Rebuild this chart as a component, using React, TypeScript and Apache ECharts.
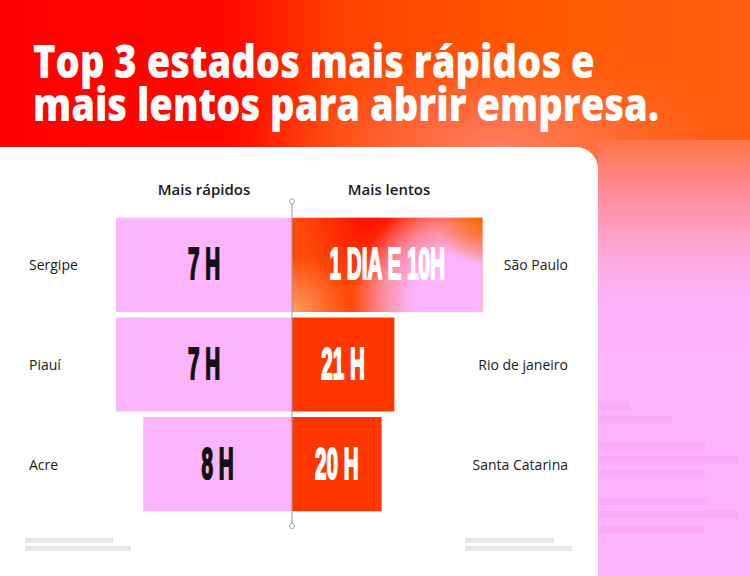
import React, { useEffect, useRef } from "react";
import * as echarts from "echarts";

// ---- data ----
const titleLines = ["Top 3 estados mais rápidos e", "mais lentos para abrir empresa."];
const headerLabels = ["Mais rápidos", "Mais lentos"];
const categoriesFast = ["Sergipe", "Piauí", "Acre"];
const categoriesSlow = ["São Paulo", "Rio de janeiro", "Santa Catarina"];
const fastHours = [7, 7, 8];
const slowLabels = ["1 DIA E 10H", "21 H", "20 H"];
// drawn bar lengths (visual units, as measured on the picture)
const fastBarLength = [11, 11, 9.3];
const slowBarLength = [11.9, 6.4, 5.6];

// ---- styles ----
const PINK = "#fcb5fc";
const RED = "#ff3600";
const NARROW = '"Liberation Sans Narrow", "Liberation Sans", sans-serif';
const SANS = '"Open Sans", "Noto Sans", sans-serif';

function radial(cx: number, cy: number, r: number, stops: [number, string][], global = true) {
  return new echarts.graphic.RadialGradient(
    cx, cy, r, stops.map(([offset, color]) => ({ offset, color })), global
  );
}

function barRenderer(labels: string[], side: "fast" | "slow") {
  return (params: any, api: any) => {
    const v = api.value(0);
    const i = api.value(1);
    const p0 = api.coord([0, i]);
    const p1 = api.coord([v, i]);
    const band = api.size([0, 1])[1];
    const h = band * 0.945;
    const x = Math.min(p0[0], p1[0]);
    const w = Math.abs(p1[0] - p0[0]);
    const y = p0[1] - h / 2;
    const children: any[] = [];
    const shape = { x, y, width: w, height: h };
    if (side === "fast") {
      children.push({ type: "rect", shape, style: { fill: PINK } });
    } else if (params.dataIndex === 0) {
      const layers = [
        "#ff4a08",
        radial(x + w * 0.4, y, h * 0.75, [[0, "rgba(255,16,0,1)"], [1, "rgba(255,16,0,0)"]]),
        radial(x, y + h, h * 0.6, [[0, "rgba(255,165,110,0.9)"], [1, "rgba(255,165,110,0)"]]),
        radial(x + w * 0.86, y + h * 0.88, h * 1.1, [
          [0, "rgba(252,181,252,1)"], [0.42, "rgba(252,181,252,1)"],
          [0.72, "rgba(252,181,252,0.6)"], [1, "rgba(252,181,252,0)"],
        ]),
        radial(x + w, y, h * 0.5, [[0, "rgba(255,105,0,1)"], [1, "rgba(255,105,0,0)"]]),
      ];
      layers.forEach((fill) => children.push({ type: "rect", shape, style: { fill } }));
    } else {
      children.push({ type: "rect", shape, style: { fill: RED } });
    }
    const col = side === "fast" ? "#111111" : "#ffffff";
    children.push({
      type: "text",
      x: x + w / 2,
      y: p0[1] - 1,
      scaleX: 0.47,
      style: {
        text: labels[params.dataIndex],
        fill: col,
        stroke: col,
        lineWidth: 2.2,
        fontSize: 44,
        fontWeight: "bold",
        fontFamily: NARROW,
        align: "center",
        verticalAlign: "middle",
      },
    });
    return { type: "group", children };
  };
}

export default function App() {
  const ref = useRef<HTMLDivElement>(null);
  useEffect(() => {
    if (!ref.current) return;
    const chart = echarts.init(ref.current, null, { renderer: "svg" });
    const stripLines = [
      [403, 32], [416, 74], [442, 107], [456, 140], [470, 107], [498, 107], [511, 140], [526, 107],
    ];
    chart.setOption({
      animation: false,
      graphic: [
        // header background
        {
          type: "rect", z: -10, silent: true,
          shape: { x: 0, y: 0, width: 750, height: 576 },
          style: {
            fill: new echarts.graphic.LinearGradient(0, 0, 1, 0, [
              { offset: 0, color: "#ff0000" },
              { offset: 0.3, color: "#ff0800" },
              { offset: 0.45, color: "#ff4000" },
              { offset: 0.7, color: "#ff5800" },
              { offset: 1, color: "#ff5e10" },
            ]),
          },
        },
        {
          type: "rect", z: -9, silent: true,
          shape: { x: 250, y: 40, width: 500, height: 220 },
          style: {
            fill: radial(0.5, 0.5, 0.5, [
              [0, "rgba(255,140,130,0.8)"],
              [0.5, "rgba(255,125,100,0.45)"],
              [1, "rgba(255,100,40,0)"],
            ], false),
          },
        },
        // right pink strip
        {
          type: "rect", z: -8, silent: true,
          shape: { x: 598, y: 140, width: 152, height: 436 },
          style: {
            fill: new echarts.graphic.LinearGradient(0, 0, 0, 1, [
              { offset: 0, color: "#ff7448" },
              { offset: 0.12, color: "#ff8c98" },
              { offset: 0.26, color: "#fda8dc" },
              { offset: 0.38, color: "#fcb3fa" },
              { offset: 1, color: "#fcb4fc" },
            ]),
          },
        },
        ...stripLines.map(([yy, ww]) => ({
          type: "rect", z: -7, silent: true,
          shape: { x: 598, y: yy, width: ww, height: 7 },
          style: { fill: "rgba(248,150,250,0.3)" },
        })),
        // white card
        {
          type: "rect", z: -6, silent: true,
          shape: { x: 0, y: 147, width: 598, height: 460, r: [0, 22, 0, 0] },
          style: { fill: "#ffffff" },
        },
        // footer placeholders
        ...[
          [25, 538, 88], [25, 546, 106], [465, 538, 89], [465, 546, 107],
        ].map(([xx, yy, ww]) => ({
          type: "rect", z: -5, silent: true,
          shape: { x: xx, y: yy, width: ww, height: 5 },
          style: { fill: "#e6e6e6" },
        })),
        // title
        ...titleLines.map((t, k) => ({
          type: "text", z: 5, x: 33, y: 60 + k * 43, scaleX: 0.83,
          style: {
            text: t, fill: "#ffffff", fontSize: 46, fontWeight: 800, fontFamily: SANS,
            align: "left", verticalAlign: "middle",
          },
        })),
        // column headers
        ...headerLabels.map((t, k) => ({
          type: "text", z: 5, x: k === 0 ? 204 : 389, y: 189,
          style: {
            text: t, fill: "#1a1a1a", fontSize: 15, fontWeight: 600, fontFamily: SANS,
            align: "center", verticalAlign: "middle",
          },
        })),
        // centre axis
        {
          type: "line", z: 100, silent: true,
          shape: { x1: 292, y1: 204, x2: 292, y2: 523 },
          style: { stroke: "#9a9a9a", lineWidth: 1 },
        },
        {
          type: "circle", z: 100, silent: true,
          shape: { cx: 292, cy: 201.5, r: 2.5 },
          style: { fill: "#ffffff", stroke: "#9a9a9a", lineWidth: 1 },
        },
        {
          type: "circle", z: 100, silent: true,
          shape: { cx: 292, cy: 526, r: 2.5 },
          style: { fill: "#ffffff", stroke: "#9a9a9a", lineWidth: 1 },
        },
      ],
      grid: { left: 100, right: 266, top: 215, height: 299, containLabel: false },
      xAxis: { type: "value", min: -12, max: 12, show: false },
      yAxis: [
        {
          type: "category", data: categoriesFast, inverse: true, position: "left",
          axisLine: { show: false }, axisTick: { show: false }, splitLine: { show: false },
          axisLabel: { align: "left", margin: 71, color: "#1a1a1a", fontSize: 14, fontFamily: SANS },
        },
        {
          type: "category", data: categoriesSlow, inverse: true, position: "right",
          axisLine: { show: false }, axisTick: { show: false }, splitLine: { show: false },
          axisLabel: { align: "right", margin: 84, color: "#1a1a1a", fontSize: 14, fontFamily: SANS },
        },
      ],
      series: [
        {
          type: "custom", name: "Mais rápidos", coordinateSystem: "cartesian2d",
          xAxisIndex: 0, yAxisIndex: 0, encode: { x: 0, y: 1 },
          data: fastBarLength.map((v, i) => [-v, i]),
          renderItem: barRenderer(fastHours.map((h) => `${h} H`), "fast"),
        },
        {
          type: "custom", name: "Mais lentos", coordinateSystem: "cartesian2d",
          xAxisIndex: 0, yAxisIndex: 0, encode: { x: 0, y: 1 },
          data: slowBarLength.map((v, i) => [v, i]),
          renderItem: barRenderer(slowLabels, "slow"),
        },
      ],
    });
    return () => chart.dispose();
  }, []);
  return (
    <div
      ref={ref}
      style={{ position: "absolute", left: 0, top: 0, width: 750, height: 576 }}
    />
  );
}
